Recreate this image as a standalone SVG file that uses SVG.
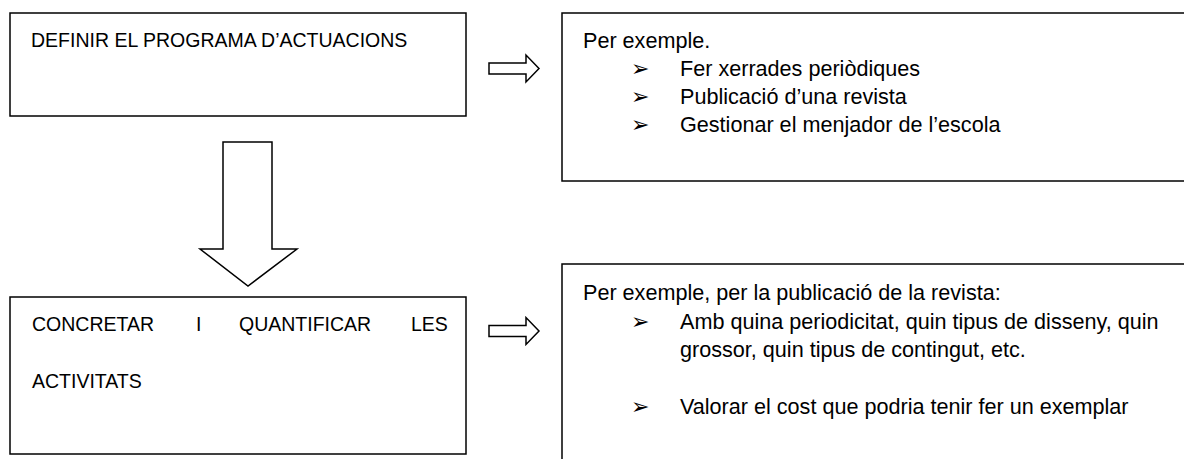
<svg xmlns="http://www.w3.org/2000/svg" width="1184" height="459" viewBox="0 0 1184 459">
<style>
.box{fill:#fff;stroke:#000;stroke-width:1.5}
.arr{fill:#fff;stroke:#000;stroke-width:1.5;stroke-linejoin:miter}
.l{font-family:"Liberation Sans",Arial,sans-serif;font-size:19.5px;fill:#000}
.r{font-family:"Liberation Sans",Arial,sans-serif;font-size:21.6px;fill:#000}
.b{font-family:"DejaVu Sans",sans-serif;font-size:22px;fill:#000}
</style>
<rect width="1184" height="459" fill="#fff"/>
<g id="node-definir">
<rect class="box" x="10" y="13" width="456" height="103"/>
<text class="l" x="31" y="47">DEFINIR EL PROGRAMA D’ACTUACIONS</text>
</g>
<g id="node-exemple1">
<rect class="box" x="562" y="13" width="640" height="168"/>
<text class="r" x="583" y="48">Per exemple.</text>
<text class="b" x="631" y="76">➢</text>
<text class="r" x="680" y="76">Fer xerrades periòdiques</text>
<text class="b" x="631" y="104">➢</text>
<text class="r" x="680" y="104">Publicació d’una revista</text>
<text class="b" x="631" y="132">➢</text>
<text class="r" x="680" y="132">Gestionar el menjador de l’escola</text>
</g>
<g id="node-concretar">
<rect class="box" x="10" y="297" width="456" height="157"/>
<text class="l" x="32" y="331">CONCRETAR</text>
<text class="l" x="196" y="331">I</text>
<text class="l" x="239" y="331">QUANTIFICAR</text>
<text class="l" x="411" y="331">LES</text>
<text class="l" x="32" y="388">ACTIVITATS</text>
</g>
<g id="node-exemple2">
<rect class="box" x="562" y="264" width="640" height="220"/>
<text class="r" x="583" y="300">Per exemple, per la publicació de la revista:</text>
<text class="b" x="631" y="329">➢</text>
<text class="r" x="680" y="329">Amb quina periodicitat, quin tipus de disseny, quin</text>
<text class="r" x="680" y="357">grossor, quin tipus de contingut, etc.</text>
<text class="b" x="631" y="414">➢</text>
<text class="r" x="680" y="414">Valorar el cost que podria tenir fer un exemplar</text>
</g>
<g id="connectors">
<polygon class="arr" points="489,63 526,63 526,55 539,68.5 526,82 526,74 489,74"/>
<polygon class="arr" points="489,325.5 526,325.5 526,317.5 539,331 526,344.5 526,336.5 489,336.5"/>
<polygon class="arr" points="223,142 272,142 272,249 297,249 248,286 200,249 223,249"/>
</g>
</svg>
